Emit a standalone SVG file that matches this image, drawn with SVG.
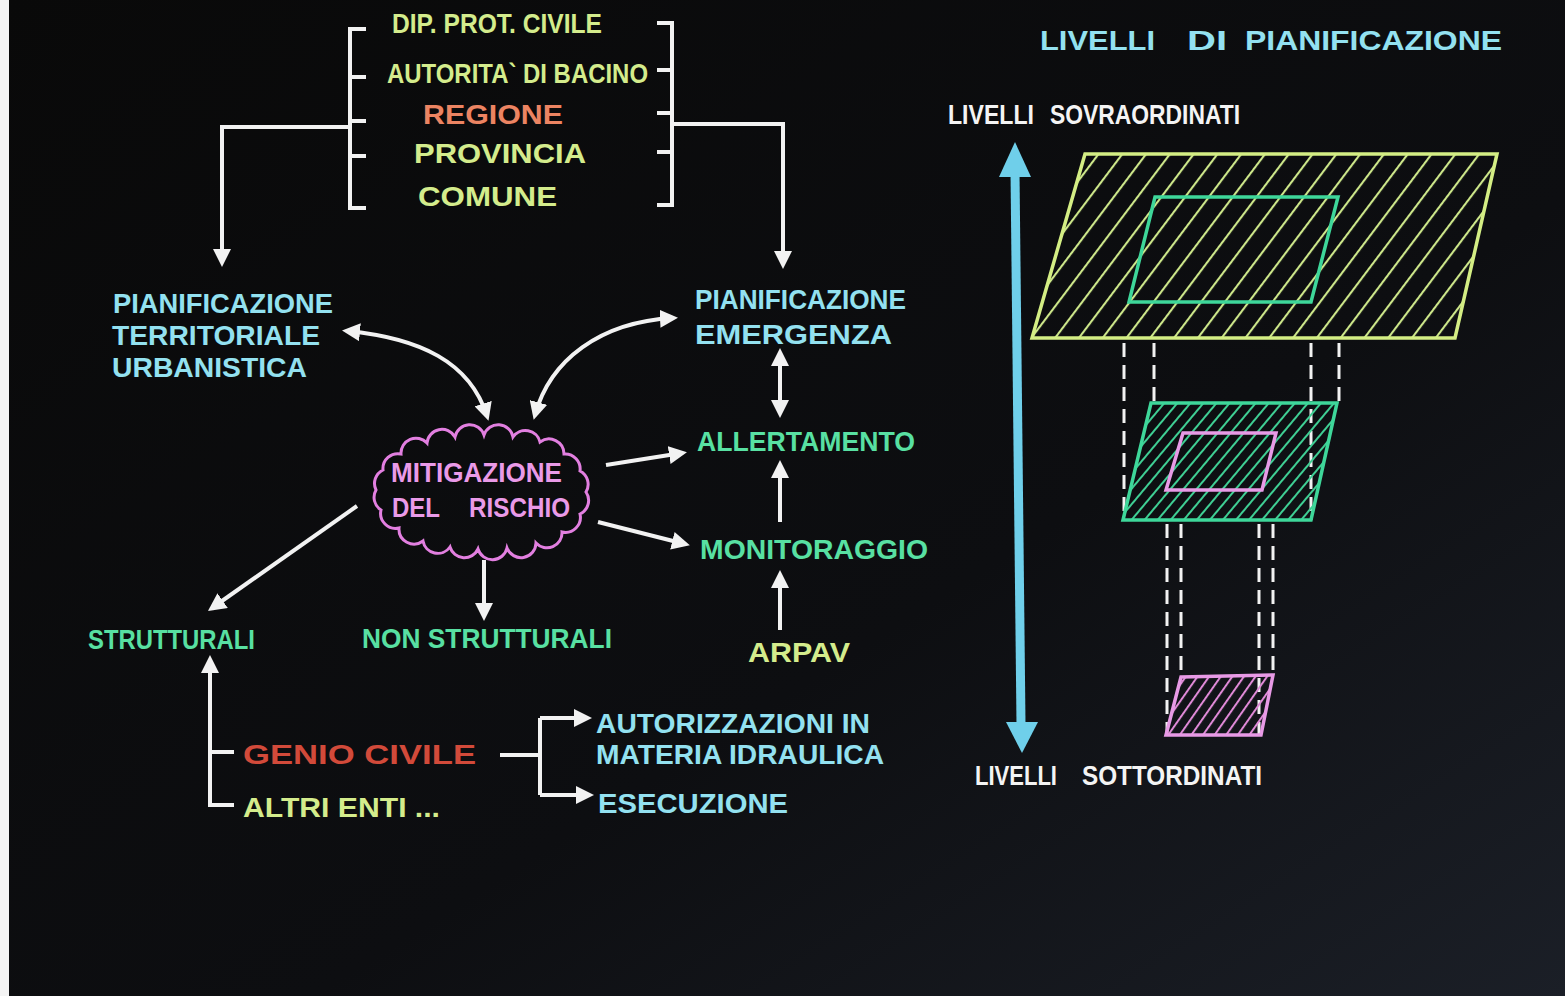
<svg xmlns="http://www.w3.org/2000/svg" width="1565" height="996" viewBox="0 0 1565 996">
<defs>
  <linearGradient id="bg" x1="0" y1="0" x2="1" y2="1">
    <stop offset="0" stop-color="#090909"/>
    <stop offset="0.6" stop-color="#0d0e11"/>
    <stop offset="1" stop-color="#1b1f27"/>
  </linearGradient>
  <marker id="ah" markerUnits="userSpaceOnUse" markerWidth="18" markerHeight="18" viewBox="0 0 18 18" refX="13" refY="9" orient="auto-start-reverse">
    <path d="M0,0 L18,9 L0,18 z" fill="#f2f2f2"/>
  </marker>
  <pattern id="hY" patternUnits="userSpaceOnUse" width="19" height="20" patternTransform="rotate(37)">
    <line x1="1" y1="0" x2="1" y2="20" stroke="#cde78a" stroke-width="2.2"/>
  </pattern>
  <pattern id="hG" patternUnits="userSpaceOnUse" width="10" height="20" patternTransform="rotate(40)">
    <line x1="1" y1="0" x2="1" y2="20" stroke="#3fcf94" stroke-width="2"/>
  </pattern>
  <pattern id="hP" patternUnits="userSpaceOnUse" width="9.5" height="20" patternTransform="rotate(35)">
    <line x1="1" y1="0" x2="1" y2="20" stroke="#e08ad8" stroke-width="2"/>
  </pattern>
  <style>
    .t{font-family:"Liberation Sans",Arial,sans-serif;font-weight:bold;font-size:28px}
    .yg{fill:#d4ec8c}
    .blue{fill:#93e1f0}
    .green{fill:#58e0a2}
    .pink{fill:#ea9ae8}
    .red{fill:#d24a3a}
    .orange{fill:#ec8462}
    .white{fill:#f4f4f4}
    .con{fill:none;stroke:#f2f2f2;stroke-width:4}
    .dash{fill:none;stroke:#f2f2f2;stroke-width:3;stroke-dasharray:14 8}
  </style>
</defs>

<rect x="0" y="0" width="1565" height="996" fill="url(#bg)"/>
<rect x="0" y="0" width="9" height="996" fill="#f4f4f4"/>

<!-- Top list of authorities -->
<g id="enti">
  <path class="con" d="M366,29 H350 V208 H366 M350,77 H366 M350,121 H366 M350,156 H366"/>
  <path class="con" d="M657,23 H672 V205 H657 M672,70 H657 M672,113 H657 M672,152 H657"/>
  <text class="t yg" x="392" y="33" textLength="210" lengthAdjust="spacingAndGlyphs">DIP. PROT. CIVILE</text>
  <text class="t yg" x="387" y="83" textLength="261" lengthAdjust="spacingAndGlyphs">AUTORITA` DI BACINO</text>
  <text class="t orange" x="423" y="124" textLength="140" lengthAdjust="spacingAndGlyphs">REGIONE</text>
  <text class="t yg" x="414" y="163" textLength="172" lengthAdjust="spacingAndGlyphs">PROVINCIA</text>
  <text class="t yg" x="418" y="206" textLength="139" lengthAdjust="spacingAndGlyphs">COMUNE</text>
</g>

<g id="pian-territoriale">
  <text class="t blue" x="113" y="313" textLength="220" lengthAdjust="spacingAndGlyphs">PIANIFICAZIONE</text>
  <text class="t blue" x="112" y="345" textLength="208" lengthAdjust="spacingAndGlyphs">TERRITORIALE</text>
  <text class="t blue" x="112" y="377" textLength="195" lengthAdjust="spacingAndGlyphs">URBANISTICA</text>
</g>

<g id="pian-emergenza">
  <text class="t blue" x="695" y="309" textLength="211" lengthAdjust="spacingAndGlyphs">PIANIFICAZIONE</text>
  <text class="t blue" x="695" y="344" textLength="197" lengthAdjust="spacingAndGlyphs">EMERGENZA</text>
</g>

<g id="allertamento">
  <text class="t green" x="697" y="451" textLength="218" lengthAdjust="spacingAndGlyphs">ALLERTAMENTO</text>
</g>

<g id="monitoraggio">
  <text class="t green" x="700" y="559" textLength="228" lengthAdjust="spacingAndGlyphs">MONITORAGGIO</text>
</g>

<g id="arpav">
  <text class="t yg" x="748" y="662" textLength="102" lengthAdjust="spacingAndGlyphs">ARPAV</text>
</g>

<g id="mitigazione">
  <path fill="none" stroke="#e27fe0" stroke-width="3" d="M586,492 A15,15 0 0 1 580,514 A15,15 0 0 1 562,532 A15,15 0 0 1 536,543 A15,15 0 0 1 507,548 A15,15 0 0 1 478,549 A15,15 0 0 1 450,547 A15,15 0 0 1 423,541 A15,15 0 0 1 399,528 A15,15 0 0 1 381,510 A15,15 0 0 1 376,490 A15,15 0 0 1 383,470 A15,15 0 0 1 401,454 A15,15 0 0 1 427,443 A15,15 0 0 1 455,437 A15,15 0 0 1 484,435 A15,15 0 0 1 513,437 A15,15 0 0 1 540,442 A15,15 0 0 1 564,454 A15,15 0 0 1 580,471 A15,15 0 0 1 586,492 Z"/>
  <text class="t pink" x="391" y="482" textLength="171" lengthAdjust="spacingAndGlyphs">MITIGAZIONE</text>
  <text class="t pink" x="392" y="517" textLength="48" lengthAdjust="spacingAndGlyphs">DEL</text>
  <text class="t pink" x="469" y="517" textLength="101" lengthAdjust="spacingAndGlyphs">RISCHIO</text>
</g>

<g id="strutturali">
  <text class="t green" x="88" y="649" textLength="167" lengthAdjust="spacingAndGlyphs">STRUTTURALI</text>
</g>

<g id="non-strutturali">
  <text class="t green" x="362" y="648" textLength="250" lengthAdjust="spacingAndGlyphs">NON STRUTTURALI</text>
</g>

<g id="genio-civile">
  <text class="t red" x="243" y="764" textLength="233" lengthAdjust="spacingAndGlyphs">GENIO CIVILE</text>
</g>

<g id="altri-enti">
  <text class="t yg" x="243" y="817" textLength="197" lengthAdjust="spacingAndGlyphs">ALTRI ENTI ...</text>
</g>

<g id="autorizzazioni">
  <text class="t blue" x="596" y="733" textLength="274" lengthAdjust="spacingAndGlyphs">AUTORIZZAZIONI IN</text>
  <text class="t blue" x="596" y="764" textLength="288" lengthAdjust="spacingAndGlyphs">MATERIA IDRAULICA</text>
</g>

<g id="esecuzione">
  <text class="t blue" x="598" y="813" textLength="190" lengthAdjust="spacingAndGlyphs">ESECUZIONE</text>
</g>

<g id="connectors">
  <path class="con" d="M350,127 H222 V262" marker-end="url(#ah)"/>
  <path class="con" d="M672,124 H783 V264" marker-end="url(#ah)"/>
  <path class="con" d="M347,331 C420,338 470,362 487,416" marker-start="url(#ah)" marker-end="url(#ah)"/>
  <path class="con" d="M673,318 C600,322 550,360 535,415" marker-start="url(#ah)" marker-end="url(#ah)"/>
  <path class="con" d="M780,353 V413" marker-start="url(#ah)" marker-end="url(#ah)"/>
  <path class="con" d="M780,522 V465" marker-end="url(#ah)"/>
  <path class="con" d="M780,630 V575" marker-end="url(#ah)"/>
  <path class="con" d="M606,465 L682,453" marker-end="url(#ah)"/>
  <path class="con" d="M598,522 L685,544" marker-end="url(#ah)"/>
  <path class="con" d="M357,506 L212,608" marker-end="url(#ah)"/>
  <path class="con" d="M484,560 V616" marker-end="url(#ah)"/>
  <path class="con" d="M234,805 H210 V660" marker-end="url(#ah)"/>
  <path class="con" d="M210,752 H234"/>
  <path class="con" d="M500,755 H540 M540,718 V795"/>
  <path class="con" d="M540,718 H587" marker-end="url(#ah)"/>
  <path class="con" d="M540,795 H589" marker-end="url(#ah)"/>
</g>

<!-- Right: planning levels -->
<g id="livelli-titolo">
  <text class="t blue" x="1040" y="50" textLength="115" lengthAdjust="spacingAndGlyphs">LIVELLI</text>
  <text class="t blue" x="1187" y="50" textLength="40" lengthAdjust="spacingAndGlyphs">DI</text>
  <text class="t blue" x="1245" y="50" textLength="257" lengthAdjust="spacingAndGlyphs">PIANIFICAZIONE</text>
</g>

<g id="livelli-sovraordinati">
  <text class="t white" x="948" y="124" textLength="86" lengthAdjust="spacingAndGlyphs">LIVELLI</text>
  <text class="t white" x="1050" y="124" textLength="190" lengthAdjust="spacingAndGlyphs">SOVRAORDINATI</text>
</g>

<g id="livelli-sottordinati">
  <text class="t white" x="975" y="785" textLength="82" lengthAdjust="spacingAndGlyphs">LIVELLI</text>
  <text class="t white" x="1082" y="785" textLength="180" lengthAdjust="spacingAndGlyphs">SOTTORDINATI</text>
</g>

<g id="asse-livelli">
  <line x1="1015" y1="172" x2="1021" y2="724" stroke="#6fcfea" stroke-width="9"/>
  <polygon points="1015,142 999,177 1031,177" fill="#6fcfea"/>
  <polygon points="1022,753 1006,722 1038,722" fill="#6fcfea"/>
</g>

<g id="livello-1">
  <polygon points="1085,154 1497,154 1455,338 1032,338" fill="url(#hY)" stroke="#d4ee84" stroke-width="3.5"/>
  <polygon points="1155,197 1338,197 1311,302 1129,302" fill="none" stroke="#3ed79a" stroke-width="3.5"/>
</g>

<g id="proiezioni">
  <line class="dash" x1="1124" y1="343" x2="1124" y2="520"/>
  <line class="dash" x1="1154" y1="343" x2="1154" y2="403"/>
  <line class="dash" x1="1311" y1="343" x2="1311" y2="520"/>
  <line class="dash" x1="1339" y1="343" x2="1339" y2="403"/>
  <line class="dash" x1="1167" y1="524" x2="1167" y2="734"/>
  <line class="dash" x1="1181" y1="524" x2="1181" y2="677"/>
  <line class="dash" x1="1259" y1="524" x2="1259" y2="734"/>
  <line class="dash" x1="1273" y1="524" x2="1273" y2="675"/>
</g>

<g id="livello-2">
  <polygon points="1151,403 1337,403 1311,520 1123,520" fill="url(#hG)" stroke="#3ed79a" stroke-width="3.5"/>
  <polygon points="1183,433 1276,433 1262,490 1166,490" fill="none" stroke="#e89ae6" stroke-width="3.5"/>
</g>

<g id="livello-3">
  <polygon points="1181,677 1273,675 1261,735 1166,735" fill="url(#hP)" stroke="#e89ae6" stroke-width="3.5"/>
</g>
</svg>
